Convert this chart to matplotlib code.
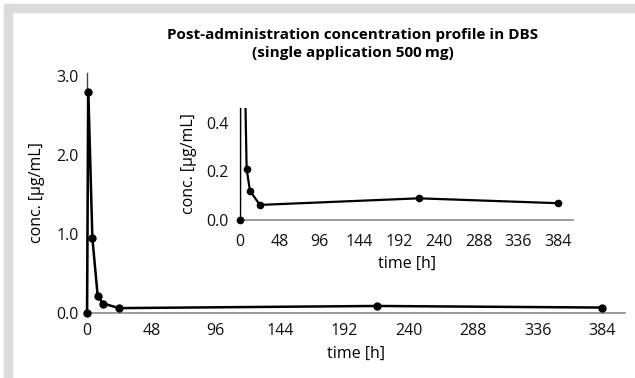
import matplotlib
matplotlib.use("Agg")
import matplotlib.pyplot as plt
from matplotlib.patches import Rectangle

plt.rcParams['font.family'] = ['Open Sans', 'DejaVu Sans']

# sampling times [h] and DBS concentrations [ug/mL]
time_h = [0, 1, 4, 8, 12, 24, 216, 384]
conc = [0.0, 2.80, 0.95, 0.21, 0.12, 0.062, 0.089, 0.069]

xticks = [0, 48, 96, 144, 192, 240, 288, 336, 384]
yticks_main = [0.0, 1.0, 2.0, 3.0]
yticks_inset = [0.0, 0.2, 0.4]

W, H = 635, 378
fig = plt.figure(figsize=(W / 100, H / 100), dpi=100)
fig.patch.set_facecolor('white')

# grey frame strips at top and left
fig.patches.append(Rectangle((4 / W, 1 - 12 / H), 1 - 4 / W, 8 / H,
                             transform=fig.transFigure, color='#dcdcdc', zorder=0))
fig.patches.append(Rectangle((4 / W, 0), 8 / W, 1 - 4 / H,
                             transform=fig.transFigure, color='#dcdcdc', zorder=0))


def px_axes(x0, x1, ytop, ybot):
    return fig.add_axes([x0 / W, 1 - ybot / H, (x1 - x0) / W, (ybot - ytop) / H])


def style(ax, xlim, ylim, yticks, xpad, ypad):
    ax.set_xlim(*xlim)
    ax.set_ylim(*ylim)
    ax.set_xticks(xticks)
    ax.set_yticks(yticks)
    ax.set_yticklabels(['{:.1f}'.format(v) for v in yticks])
    ax.tick_params(length=0, labelsize=11.5, colors='#111111')
    ax.tick_params(axis='x', pad=xpad)
    ax.tick_params(axis='y', pad=ypad)
    for s in ['top', 'right']:
        ax.spines[s].set_visible(False)
    ax.spines['left'].set_color('#444444')
    ax.spines['bottom'].set_color('#8a8a8a')
    ax.spines['left'].set_linewidth(1.0)
    ax.spines['bottom'].set_linewidth(1.2)
    ax.patch.set_alpha(0)


# main plot
ax = px_axes(87, 625, 73, 313)
style(ax, (0, 401), (0, 3.04), yticks_main, 7, 6)
ax.plot(time_h, conc, color='black', lw=1.8, marker='o', ms=5, clip_on=False, zorder=5)
ax.set_xlabel('time [h]', fontsize=11.5, labelpad=5)
ax.set_ylabel('conc. [µg/mL]', fontsize=11.5)
ax.yaxis.set_label_coords(-0.078, 0.5)

# zoomed inset
ins = px_axes(240, 573, 108, 220)
style(ins, (0, 402), (0, 0.46), yticks_inset, 10, 8)
ins.plot(time_h, conc, color='black', lw=1.6, marker='o', ms=4.5, zorder=5)
ins.plot(time_h[0], conc[0], color='black', marker='o', ms=4.5, clip_on=False, zorder=6)
ins.set_xlabel('time [h]', fontsize=11.5, labelpad=4)
ins.set_ylabel('conc. [µg/mL]', fontsize=11.5)
ins.yaxis.set_label_coords(-0.128, 0.5)

fig.text(353 / W, 1 - 44 / H,
         'Post-administration concentration profile in DBS\n(single application 500\u2009mg)',
         ha='center', va='center', fontsize=11, fontweight='bold', linespacing=1.35)

fig.savefig('out.png', dpi=100)
